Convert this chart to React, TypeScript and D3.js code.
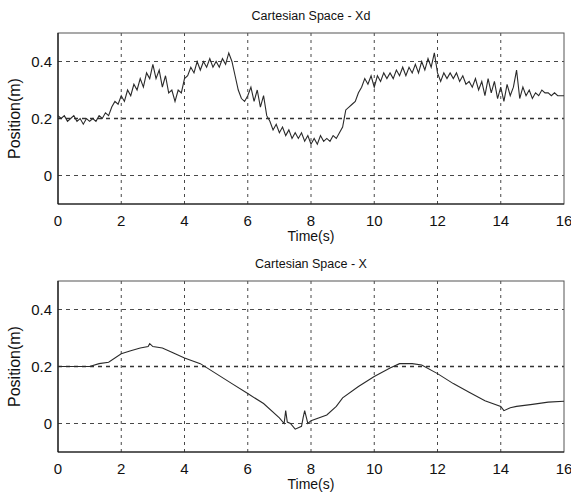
import React from "react";
import * as d3 from "d3";

// Xd (desired) position, sampled every 0.1 s from 0 to 16 s
const xdValues = [
  0.21, 0.2, 0.21, 0.19, 0.2, 0.21, 0.19, 0.2, 0.18, 0.2, 0.19,
  0.2, 0.19, 0.21, 0.2, 0.22, 0.21, 0.24, 0.26, 0.25, 0.28,
  0.26, 0.3, 0.28, 0.32, 0.3, 0.34, 0.31, 0.36, 0.34, 0.39,
  0.34, 0.37, 0.31, 0.35, 0.29, 0.3, 0.26, 0.3, 0.29, 0.34,
  0.35, 0.38, 0.36, 0.4, 0.37, 0.4, 0.38, 0.41, 0.38, 0.4,
  0.38, 0.41, 0.39, 0.43, 0.4, 0.35, 0.3, 0.27, 0.26, 0.28,
  0.31, 0.26, 0.3, 0.24, 0.28, 0.21, 0.19, 0.16, 0.18, 0.15,
  0.17, 0.14, 0.16, 0.13, 0.15, 0.13, 0.15, 0.12, 0.14, 0.11,
  0.13, 0.11, 0.14, 0.12, 0.13, 0.12, 0.14, 0.13, 0.15, 0.17,
  0.23, 0.24, 0.25, 0.26, 0.29, 0.31, 0.34, 0.32, 0.35, 0.31,
  0.35, 0.33, 0.36, 0.34, 0.36, 0.34, 0.37, 0.35, 0.38, 0.35,
  0.38, 0.36, 0.39, 0.36, 0.4, 0.37, 0.41, 0.38, 0.43, 0.36,
  0.33, 0.36, 0.34, 0.36, 0.34, 0.36, 0.33, 0.35, 0.32, 0.33,
  0.31, 0.34, 0.3, 0.33, 0.28, 0.34, 0.29, 0.33, 0.27, 0.31,
  0.26, 0.32, 0.28, 0.31, 0.37, 0.27, 0.31, 0.28, 0.3, 0.27,
  0.29, 0.28, 0.3, 0.29, 0.29, 0.28, 0.29, 0.28, 0.28, 0.28,
];
const xdTimes = xdValues.map((_, i) => i / 10);

// X (actual) position
const xTimes = [
  0, 0.5, 1, 1.3, 1.6, 2, 2.3, 2.6, 2.85, 2.9, 3.0, 3.3, 3.6, 4, 4.5, 5,
  5.5, 6, 6.5, 7, 7.15, 7.2, 7.25, 7.35, 7.5, 7.7, 7.75, 7.8, 7.9, 8,
  8.5, 8.8, 9, 9.5, 10, 10.5, 10.8, 11.2, 11.5, 12, 12.5, 13, 13.5, 14,
  14.1, 14.3, 14.5, 15, 15.5, 16,
];
const xValues = [
  0.2, 0.2, 0.2, 0.21, 0.215, 0.245, 0.255, 0.265, 0.27, 0.28, 0.27, 0.265, 0.25, 0.23, 0.21, 0.175,
  0.14, 0.105, 0.07, 0.02, 0.0, 0.045, 0.005, 0.0, -0.02, -0.01, 0.02, 0.045, 0.0, 0.01,
  0.03, 0.06, 0.09, 0.13, 0.165, 0.195, 0.21, 0.21, 0.205, 0.175, 0.14, 0.11, 0.08, 0.06,
  0.045, 0.055, 0.06, 0.067, 0.075, 0.078,
];

const xTicks = [0, 2, 4, 6, 8, 10, 12, 14, 16];
const yTicks = [0, 0.2, 0.4];

const left = 58;
const right = 564;
const fontFamily = "'Liberation Sans', Arial, sans-serif";

function Panel({ top, title, times, values }) {
  const bottom = top + 171;
  const x = d3.scaleLinear().domain([0, 16]).range([left, right]);
  const y = d3.scaleLinear().domain([-0.1, 0.5]).range([bottom, top]);
  const line = d3
    .line<number>()
    .x((_, i) => x(times[i]))
    .y((d) => y(d));

  return (
    <g>
      {/* grid */}
      {xTicks.slice(1, -1).map((t) => (
        <line key={"v" + t} x1={x(t)} x2={x(t)} y1={top} y2={bottom}
          stroke="#333" strokeWidth={0.9} strokeDasharray="3,4" />
      ))}
      {yTicks.map((t) => (
        <line key={"h" + t} x1={left} x2={right} y1={y(t)} y2={y(t)}
          stroke="#333" strokeWidth={t === 0.2 ? 1.3 : 0.9} strokeDasharray="4,4" />
      ))}
      {/* box */}
      <rect x={left} y={top} width={right - left} height={bottom - top}
        fill="none" stroke="#555" strokeWidth={1} />
      <line x1={left} x2={left} y1={top} y2={bottom} stroke="#111" strokeWidth={1.2} />
      <line x1={left} x2={right} y1={bottom} y2={bottom} stroke="#111" strokeWidth={1.2} />
      {/* data */}
      <path d={line(values) || ""} fill="none" stroke="#2a2a2a" strokeWidth={1.1} />
      {/* tick labels */}
      {xTicks.map((t) => (
        <text key={"xt" + t} x={x(t)} y={bottom + 22} textAnchor="middle"
          fontSize={15} fontFamily={fontFamily} fill="#111">{t}</text>
      ))}
      {yTicks.map((t) => (
        <text key={"yt" + t} x={left - 6} y={y(t) + 5} textAnchor="end"
          fontSize={15} fontFamily={fontFamily} fill="#111">{t === 0 ? "0" : t.toFixed(1)}</text>
      ))}
      <text x={(left + right) / 2} y={bottom + 37} textAnchor="middle"
        fontSize={14} fontFamily={fontFamily} fill="#111">Time(s)</text>
      <text x={(left + right) / 2} y={top - 13} textAnchor="middle"
        fontSize={12.5} fontFamily={fontFamily} fill="#111">{title}</text>
      <text transform={`translate(20,${(top + bottom) / 2}) rotate(-90)`} textAnchor="middle"
        fontSize={16} fontFamily={fontFamily} fill="#111">Position(m)</text>
    </g>
  );
}

export default function App() {
  return (
    <svg width={571} height={499} style={{ position: "absolute", left: 0, top: 0, background: "#fff" }}>
      <rect width={571} height={499} fill="#fff" />
      <Panel top={33} title="Cartesian Space - Xd" times={xdTimes} values={xdValues} />
      <Panel top={281} title="Cartesian Space - X" times={xTimes} values={xValues} />
    </svg>
  );
}
